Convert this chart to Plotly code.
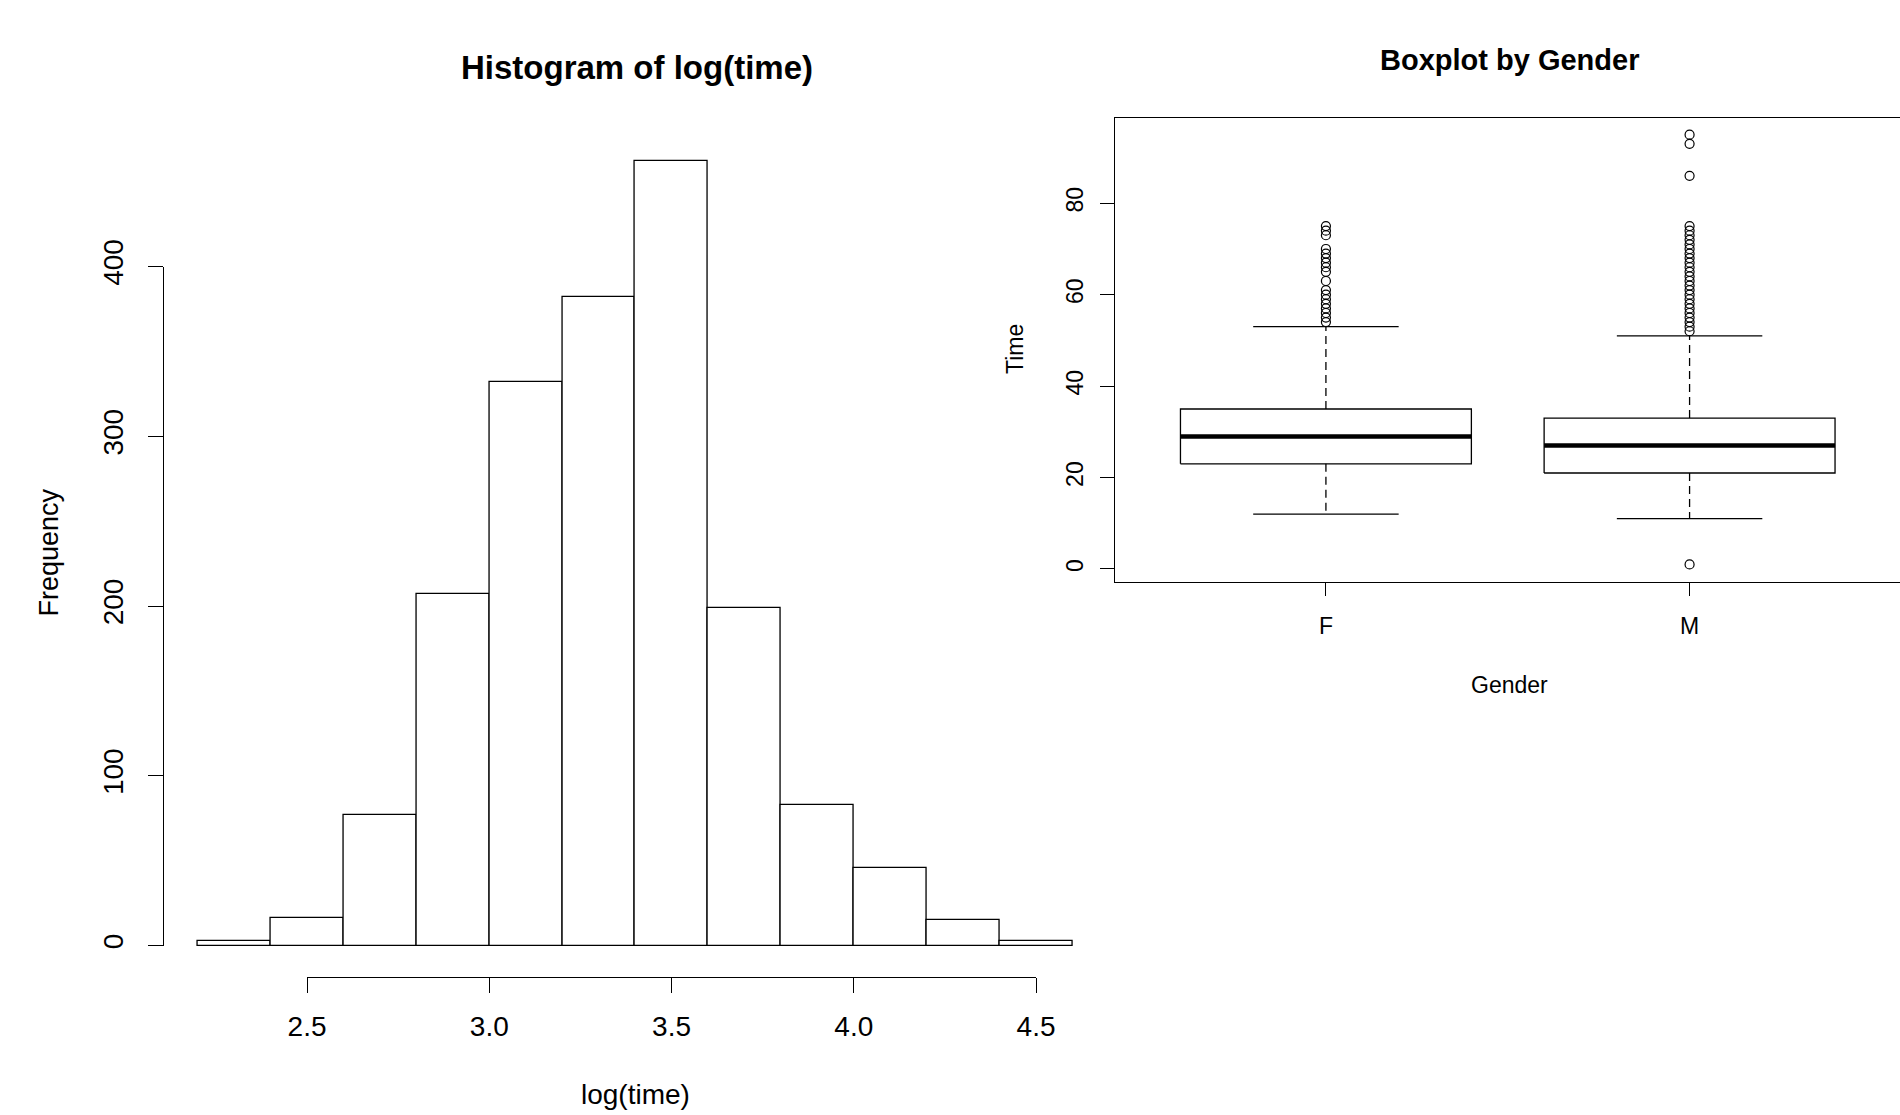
import plotly.graph_objects as go

# ---------------- data ----------------
hist_breaks = [2.2, 2.4, 2.6, 2.8, 3.0, 3.2, 3.4, 3.6, 3.8, 4.0, 4.2, 4.4, 4.6]
hist_counts = [3, 16, 77, 207, 332, 382, 462, 199, 83, 46, 15, 3]
hist_xticks = [2.5, 3.0, 3.5, 4.0, 4.5]
hist_xticklabels = ["2.5", "3.0", "3.5", "4.0", "4.5"]
hist_yticks = [0, 100, 200, 300, 400]

genders = ["F", "M"]
box_lower_whisker = [12, 11]
box_q1 = [23, 21]
box_median = [29, 27]
box_q3 = [35, 33]
box_upper_whisker = [53, 51]
outliers_F = [54, 55, 56, 57, 58, 59, 60, 61, 63, 65, 66, 67, 68, 69, 70, 73, 74, 75]
outliers_M = [1, 52, 53, 54, 55, 56, 57, 58, 59, 60, 61, 62, 63, 64, 65, 66, 67, 68,
              69, 70, 71, 72, 73, 74, 75, 86, 93, 95]
box_outliers = [outliers_F, outliers_M]
box_yticks = [0, 20, 40, 60, 80]

# ---------------- layout helpers ----------------
W, H = 1900, 1115
PAGE_OFFSET = 0          # body margin removed via post_script below
FONT = "Liberation Sans, Arial, sans-serif"
LW = 1.3


def fx(px):
    return (px - PAGE_OFFSET) / W


def fy(py):
    return 1 - (py - PAGE_OFFSET) / H


def r_range(lo, hi):
    pad = 0.04 * (hi - lo)
    return [lo - pad, hi + pad]


def map_lin(v, rng, dom):
    return dom[0] + (v - rng[0]) / (rng[1] - rng[0]) * (dom[1] - dom[0])


# histogram panel
hx_dom = [fx(162.7), fx(1107.5)]
hy_dom = [fy(977), fy(130)]
hx_range = r_range(hist_breaks[0], hist_breaks[-1])
hy_range = r_range(0, max(hist_counts))
hx_axis_dom = [map_lin(hist_xticks[0], hx_range, hx_dom), map_lin(hist_xticks[-1], hx_range, hx_dom)]
hy_axis_dom = [map_lin(hist_yticks[0], hy_range, hy_dom), map_lin(hist_yticks[-1], hy_range, hy_dom)]

# boxplot panel: plot region 1115 .. 1900.5 px; the right part is cut off by the page edge
BOX_LEFT_PX, BOX_RIGHT_PX = 1115, 1900.5
by_dom = [fy(581.6), fy(117.5)]
all_box_vals = box_lower_whisker + box_upper_whisker + [v for o in box_outliers for v in o]
bx_full = r_range(0.5, len(genders) + 0.5)
by_range = r_range(min(all_box_vals), max(all_box_vals))
vis_right_px = PAGE_OFFSET + W
bx_range = [bx_full[0],
            bx_full[0] + (vis_right_px - BOX_LEFT_PX) / (BOX_RIGHT_PX - BOX_LEFT_PX)
            * (bx_full[1] - bx_full[0])]
bx_dom = [fx(BOX_LEFT_PX), 1.0]

fig = go.Figure()

# ---------------- histogram ----------------
mids = [(a + b) / 2 for a, b in zip(hist_breaks[:-1], hist_breaks[1:])]
widths = [b - a for a, b in zip(hist_breaks[:-1], hist_breaks[1:])]
fig.add_trace(go.Bar(
    x=mids, y=hist_counts, width=widths,
    marker=dict(color="white", line=dict(color="black", width=LW)),
    xaxis="x", yaxis="y", showlegend=False, hoverinfo="x+y",
))
# invisible trace to materialise the R-style detached axes
fig.add_trace(go.Scatter(
    x=[hist_xticks[0]], y=[hist_yticks[0]], xaxis="x3", yaxis="y3",
    mode="markers", marker=dict(opacity=0), showlegend=False, hoverinfo="skip",
))

# ---------------- boxplot ----------------
HALF = 0.4
STAPLE = 0.2
for i, g in enumerate(genders):
    pos = i + 1
    fig.add_trace(go.Scatter(
        x=[pos - HALF, pos + HALF, pos + HALF, pos - HALF, pos - HALF],
        y=[box_q1[i], box_q1[i], box_q3[i], box_q3[i], box_q1[i]],
        mode="lines", line=dict(color="black", width=LW),
        xaxis="x2", yaxis="y2", showlegend=False, hoverinfo="skip",
    ))
    fig.add_trace(go.Scatter(
        x=[pos - HALF, pos + HALF], y=[box_median[i], box_median[i]],
        mode="lines", line=dict(color="black", width=4.5),
        xaxis="x2", yaxis="y2", showlegend=False, hoverinfo="skip",
    ))
    fig.add_trace(go.Scatter(
        x=[pos, pos, None, pos, pos],
        y=[box_q3[i], box_upper_whisker[i], None, box_q1[i], box_lower_whisker[i]],
        mode="lines", line=dict(color="black", width=LW, dash="8px,5px"),
        xaxis="x2", yaxis="y2", showlegend=False, hoverinfo="skip",
    ))
    fig.add_trace(go.Scatter(
        x=[pos - STAPLE, pos + STAPLE, None, pos - STAPLE, pos + STAPLE],
        y=[box_upper_whisker[i], box_upper_whisker[i], None,
           box_lower_whisker[i], box_lower_whisker[i]],
        mode="lines", line=dict(color="black", width=LW),
        xaxis="x2", yaxis="y2", showlegend=False, hoverinfo="skip",
    ))
    fig.add_trace(go.Scatter(
        x=[pos] * len(box_outliers[i]), y=box_outliers[i],
        mode="markers",
        marker=dict(symbol="circle-open", size=9, color="black", line=dict(width=1.2)),
        xaxis="x2", yaxis="y2", showlegend=False, cliponaxis=False,
    ))

tick_font_h = dict(family=FONT, size=28, color="black")
tick_font_b = dict(family=FONT, size=23, color="black")

common = dict(showgrid=False, zeroline=False, automargin=False,
              ticks="outside", tickwidth=LW, tickcolor="black",
              showline=True, linecolor="black", linewidth=LW)

fig.update_layout(
    template="none",
    width=W, height=H, autosize=False,
    margin=dict(l=0, r=0, t=0, b=0, pad=0, autoexpand=False),
    paper_bgcolor="white", plot_bgcolor="rgba(0,0,0,0)",
    font=dict(family=FONT, color="black"),
    showlegend=False,
    bargap=0,
    xaxis=dict(domain=hx_dom, range=hx_range, visible=False, anchor="y", automargin=False),
    yaxis=dict(domain=hy_dom, range=hy_range, visible=False, anchor="x", automargin=False),
    xaxis3=dict(domain=hx_axis_dom, range=[hist_xticks[0], hist_xticks[-1]],
                anchor="free", position=hy_dom[0],
                tickvals=hist_xticks, ticktext=hist_xticklabels,
                ticklen=15, tickfont=tick_font_h, ticklabelstandoff=9, **common),
    yaxis3=dict(domain=hy_axis_dom, range=[hist_yticks[0], hist_yticks[-1]],
                anchor="free", position=hx_dom[0],
                tickvals=hist_yticks, tickangle=-90,
                ticklen=15, tickfont=tick_font_h, ticklabelstandoff=13, **common),
    xaxis2=dict(domain=bx_dom, range=bx_range, anchor="y2",
                tickvals=list(range(1, len(genders) + 1)), ticktext=genders,
                ticklen=13, mirror=True, tickfont=tick_font_b, ticklabelstandoff=11,
                **common),
    yaxis2=dict(domain=by_dom, range=by_range, anchor="x2",
                tickvals=box_yticks, tickangle=-90,
                ticklen=14, mirror=False, tickfont=tick_font_b, ticklabelstandoff=8,
                **common),
)

annots = [
    dict(text="<b>Histogram of log(time)</b>", x=fx(637), y=fy(67), size=33, angle=0),
    dict(text="Frequency", x=fx(48.5), y=fy(553), size=27, angle=-90),
    dict(text="log(time)", x=fx(635), y=fy(1094), size=28, angle=0),
    dict(text="<b>Boxplot by Gender</b>", x=fx(1509), y=fy(59.5), size=29, angle=0),
    dict(text="Time", x=fx(1015), y=fy(349), size=23, angle=-90),
    dict(text="Gender", x=fx(1509), y=fy(684.6), size=23, angle=0),
]
for a in annots:
    fig.add_annotation(
        text=a["text"], x=a["x"], y=a["y"], xref="paper", yref="paper",
        xanchor="center", yanchor="middle", showarrow=False, textangle=a["angle"],
        font=dict(family=FONT, size=a["size"], color="black"),
    )

fig.write_html(
    "out.html",
    config={"displayModeBar": False},
    post_script="document.body.style.margin='0';document.body.style.padding='0';"
                "document.body.style.overflow='hidden';"
                "document.documentElement.style.overflow='hidden';",
)
